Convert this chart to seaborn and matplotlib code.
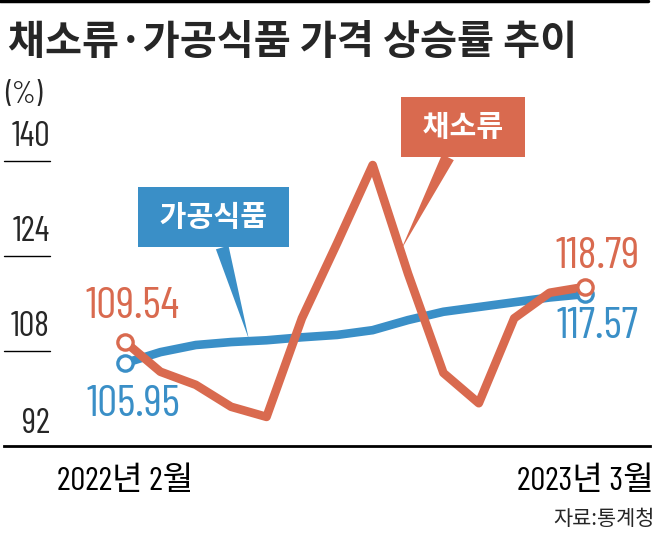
import pandas as pd
import seaborn as sns
import matplotlib.pyplot as plt

# 월별 가격 상승률 (2022년 2월 ~ 2023년 3월)
months = list(range(14))
veg = [109.54, 104.5, 102.3, 98.6, 96.9, 113.5, 126.2, 139.3, 121.0, 104.3, 99.2, 113.5, 117.8, 118.79]
processed = [105.95, 107.8, 109.0, 109.5, 109.8, 110.3, 110.7, 111.5, 113.2, 114.6, 115.4, 116.2, 117.0, 117.57]
x_labels = ["2022년 2월", "2023년 3월"]
y_ticks = [108, 124, 140]

ORANGE = "#D96A4F"
BLUE = "#3A8FC7"

df = pd.DataFrame({
    "month": months * 2,
    "value": processed + veg,
    "series": ["가공식품"] * len(months) + ["채소류"] * len(months),
})

sns.set_style("white")
num_font = ["Barlow Condensed", "Noto Sans CJK KR", "DejaVu Sans"]
kr_font = ["Noto Sans CJK KR", "DejaVu Sans"]
plt.rcParams["font.family"] = num_font

fig = plt.figure(figsize=(6.58, 5.36), dpi=100)
L, R, B, T = 4, 650, 446, 80
ax = fig.add_axes([L / 658, (536 - B) / 536, (R - L) / 658, (B - T) / 536])

px_per_month = 35.38
ax.set_xlim((L - 125) / px_per_month, (R - 125) / px_per_month)
ax.set_ylim(92, 92 + (B - T) / 5.94)

sns.lineplot(data=df, x="month", y="value", hue="series", hue_order=["가공식품", "채소류"],
             palette={"가공식품": BLUE, "채소류": ORANGE}, linewidth=6.2, legend=False, ax=ax,
             solid_joinstyle="round", solid_capstyle="round")

# 시작/끝 원형 마커
for vals, c in [(processed, BLUE), (veg, ORANGE)]:
    ax.plot([months[0], months[-1]], [vals[0], vals[-1]], "o", ms=11, mfc="white",
            mec=c, mew=2.4, zorder=5)

# 값 라벨
def val_label(x, y, dx, dy, c):
    ax.annotate(f"{y:.2f}", xy=(x, y), xytext=(dx, dy), textcoords="offset pixels",
                ha="center", va="center", color=c, fontsize=32, family=num_font)

val_label(months[0], veg[0], 8, 35, ORANGE)
val_label(months[0], processed[0], 8, -42, BLUE)
val_label(months[-1], veg[-1], 13, 30, ORANGE)
val_label(months[-1], processed[-1], 13, -33, BLUE)

# 범례 말풍선
def tag(text, tip, pos, c):
    ax.annotate(text, xy=tip, xytext=pos, ha="center", va="center", color="white",
                fontsize=21, fontweight="bold", family=kr_font,
                bbox=dict(boxstyle="square,pad=0.52", fc=c, ec="none"),
                arrowprops=dict(arrowstyle="wedge,tail_width=0.45", fc=c, ec="none",
                                shrinkA=0, shrinkB=0), zorder=6)

tag(" 가공식품 ", (3.5, 110.0), (2.5, 130.5), BLUE)
tag(" 채소류 ", (7.8, 125.0), (9.56, 145.7), ORANGE)

# y축 눈금 (밑줄 형태)
ytr = ax.get_yaxis_transform()
x_end = (50 - L) / (R - L)
for v in y_ticks:
    ax.plot([0, x_end], [v, v], color="black", lw=1, transform=ytr, clip_on=False)
    ax.text(x_end, v + 1.3, str(v), transform=ytr, ha="right", va="bottom",
            fontsize=25, family=num_font)
ax.text(x_end, 93.0, "92", transform=ytr, ha="right", va="bottom", fontsize=25, family=num_font)
ax.text(0.002, 151.1, "(%)", transform=ytr, ha="left", va="center", fontsize=22, family=num_font)

# x축
ax.set_xticks([months[0], months[-1]])
ax.set_xticklabels(x_labels, fontsize=24)
ax.tick_params(axis="x", direction="in", length=11, width=1, pad=15, colors="black")
ax.tick_params(axis="y", left=False, labelleft=False)
ax.set_xlabel("")
ax.set_ylabel("")
for s in ["top", "left", "right"]:
    ax.spines[s].set_visible(False)
ax.spines["bottom"].set_linewidth(2)
ax.spines["bottom"].set_color("black")

# 제목, 출처
fig.add_artist(plt.Line2D([0, 0.985], [0.998, 0.998], color="black", lw=2.5))
fig.text(8 / 658, 1 - 42 / 536, "채소류·가공식품 가격 상승률 추이", ha="left", va="center",
         fontsize=29, fontweight="bold", family=kr_font)
fig.text(655 / 658, 1 - 519 / 536, "자료:통계청", ha="right", va="center", fontsize=15,
         family=kr_font)

fig.savefig("out.png", dpi=100)
